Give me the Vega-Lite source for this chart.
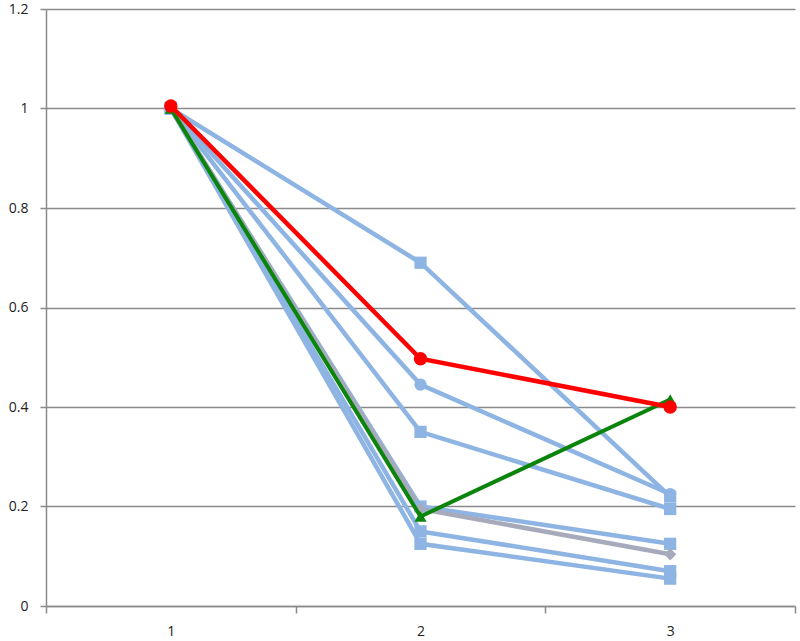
{
  "$schema": "https://vega.github.io/schema/vega-lite/v6.json",
  "autosize": {"type": "none"},
  "padding": {"left": 46, "top": 9, "right": 5, "bottom": 35},
  "width": 749,
  "height": 597,
  "background": "white",
  "config": {
    "view": {"stroke": null},
    "axis": {"labelFont": "Open Sans", "labelFontSize": 14, "labelColor": "#222222", "domainColor": "#8a8a8a", "tickColor": "#8a8a8a", "gridColor": "#8a8a8a", "domainWidth": 1.5, "tickWidth": 1.5, "gridWidth": 1.5}
  },
  "data": {"values": [
    {"series": "s1", "x": "1", "y": 1}, {"series": "s1", "x": "2", "y": 0.69}, {"series": "s1", "x": "3", "y": 0.22},
    {"series": "s2", "x": "1", "y": 1}, {"series": "s2", "x": "2", "y": 0.445}, {"series": "s2", "x": "3", "y": 0.225},
    {"series": "s3", "x": "1", "y": 1}, {"series": "s3", "x": "2", "y": 0.35}, {"series": "s3", "x": "3", "y": 0.195},
    {"series": "s4", "x": "1", "y": 1}, {"series": "s4", "x": "2", "y": 0.2}, {"series": "s4", "x": "3", "y": 0.125},
    {"series": "s5", "x": "1", "y": 1}, {"series": "s5", "x": "2", "y": 0.15}, {"series": "s5", "x": "3", "y": 0.07},
    {"series": "s6", "x": "1", "y": 1}, {"series": "s6", "x": "2", "y": 0.125}, {"series": "s6", "x": "3", "y": 0.055},
    {"series": "gray", "x": "1", "y": 1}, {"series": "gray", "x": "2", "y": 0.195}, {"series": "gray", "x": "3", "y": 0.104},
    {"series": "green", "x": "1", "y": 1}, {"series": "green", "x": "2", "y": 0.18}, {"series": "green", "x": "3", "y": 0.415},
    {"series": "red", "x": "1", "y": 1.005}, {"series": "red", "x": "2", "y": 0.497}, {"series": "red", "x": "3", "y": 0.4}
  ]},
  "encoding": {
    "x": {"field": "x", "type": "ordinal", "bandPosition": 0.5,
      "scale": {"type": "band", "paddingInner": 0, "paddingOuter": 0},
      "axis": {"title": null, "labelAngle": 0, "tickBand": "extent", "tickSize": 7, "labelPadding": 11, "grid": false}},
    "y": {"field": "y", "type": "quantitative",
      "scale": {"domain": [0, 1.2], "nice": false},
      "axis": {"title": null, "values": [0, 0.2, 0.4, 0.6, 0.8, 1, 1.2], "format": "~g", "tickSize": 6, "labelPadding": 12, "grid": true}},
    "color": {"field": "series", "type": "nominal", "legend": null,
      "scale": {"domain": ["s1", "s2", "s3", "s4", "s5", "s6", "gray", "green", "red"],
        "range": ["#8DB4E2", "#8DB4E2", "#8DB4E2", "#8DB4E2", "#8DB4E2", "#8DB4E2", "#A7AABB", "#0B840B", "#FF0000"]}},
    "shape": {"field": "series", "type": "nominal", "legend": null,
      "scale": {"domain": ["s1", "s2", "s3", "s4", "s5", "s6", "gray", "green", "red"],
        "range": ["square", "circle", "square", "square", "square", "square", "diamond", "triangle-up", "circle"]}}
  },
  "layer": [
    {"transform": [{"filter": "datum.series != 'red' && datum.series != 'green'"}],
     "mark": {"type": "line", "strokeWidth": 4.5}, "encoding": {"shape": null}},
    {"transform": [{"filter": "datum.series != 'red' && datum.series != 'green'"}],
     "mark": {"type": "point", "filled": true, "opacity": 1, "size": 150}},
    {"transform": [{"filter": "datum.series == 'green'"}],
     "mark": {"type": "line", "strokeWidth": 4}, "encoding": {"shape": null}},
    {"transform": [{"filter": "datum.series == 'green'"}],
     "mark": {"type": "point", "filled": true, "opacity": 1, "size": 150}},
    {"transform": [{"filter": "datum.series == 'red'"}],
     "mark": {"type": "line", "strokeWidth": 4.5}, "encoding": {"shape": null}},
    {"transform": [{"filter": "datum.series == 'red'"}],
     "mark": {"type": "point", "filled": true, "opacity": 1, "size": 180}}
  ]
}
